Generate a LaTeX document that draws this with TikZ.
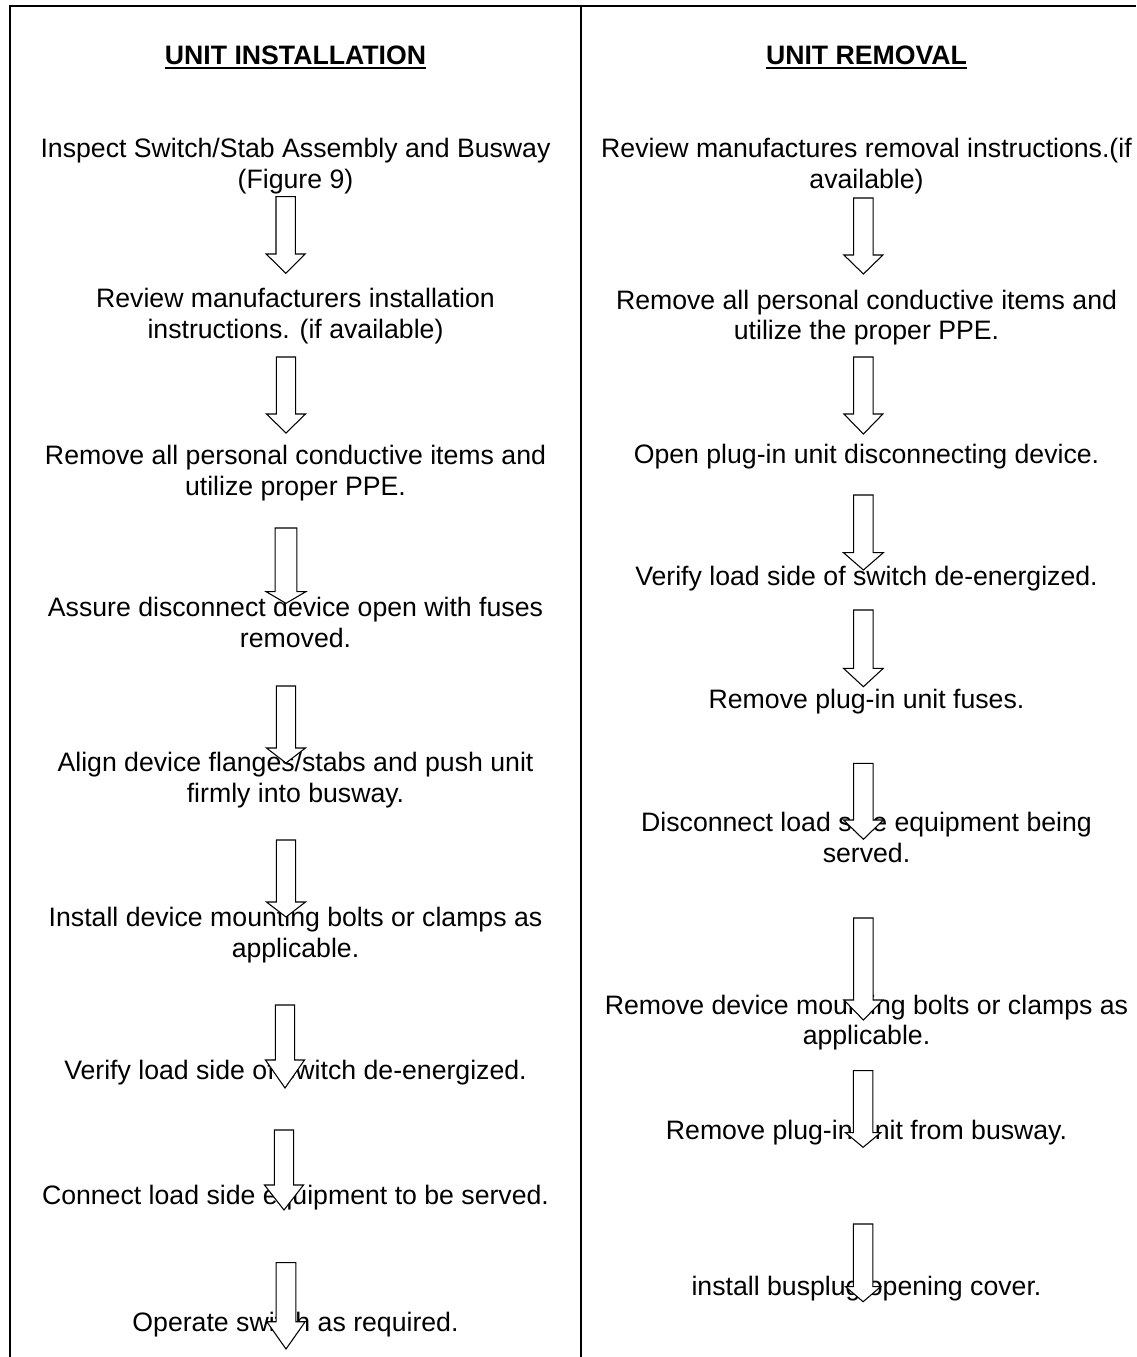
\documentclass[tikz,border=0pt]{standalone}
\usepackage{fontspec}
\setmainfont{Liberation Sans}
\newcommand\barrow[7]{%
  \coordinate (#1) at (#2,#3);
  \draw[blk] (#2-#6,#3) -- (#2+#6,#3) -- (#2+#6,#4) -- (#2+#7,#4) -- (#2,#5) -- (#2-#7,#4) -- (#2-#6,#4) -- cycle;}
\begin{document}
\begin{tikzpicture}[x=0.75pt,y=-0.75pt,
  txt/.style={inner sep=0pt, anchor=base, font=\fontsize{20}{23}\selectfont},
  ttl/.style={txt, font=\fontsize{20}{23}\selectfont\bfseries},
  frame/.style={line width=1.9pt},
  blk/.style={draw=black, fill=white, line width=0.8pt, line join=miter}]
\useasboundingbox (0,0) rectangle (1136,1357);
% frame
\draw[frame] (9,6) -- (1136,6);
\draw[frame] (10,5) -- (10,1357);
\draw[frame] (581,5) -- (581,1357);
% ---------- left column ----------
\node[ttl] (lt) at (295.5,64.3) {UNIT INSTALLATION};
\draw[line width=1.5pt] ([yshift=-3pt]lt.base west) -- ([yshift=-3pt]lt.base east);
\node[txt] (l1a) at (295.5,157.3) {Inspect Switch/Stab Assembly and Busway};
\node[txt] (l1b) at (295.5,188) {(Figure 9)};
\node[txt] (l2a) at (295.5,307.3) {Review manufacturers installation};
\node[txt] (l2b) at (295.5,338) {instructions. (if available)};
\node[txt] (l3a) at (295.5,464.3) {Remove all personal conductive items and};
\node[txt] (l3b) at (295.5,495) {utilize proper PPE.};
\node[txt] (l4a) at (295.5,616.7) {Assure disconnect device open with fuses};
\node[txt] (l4b) at (295.5,647.3) {removed.};
\node[txt] (l5a) at (295.5,771.3) {Align device flanges/stabs and push unit};
\node[txt] (l5b) at (295.5,802) {firmly into busway.};
\node[txt] (l6a) at (295.5,926.3) {Install device mounting bolts or clamps as};
\node[txt] (l6b) at (295.5,957) {applicable.};
\node[txt] (l7) at (295.5,1079.3) {Verify load side of switch de-energized.};
\node[txt] (l8) at (295.5,1204.3) {Connect load side equipment to be served.};
\node[txt] (l9) at (295.5,1331.7) {Operate switch as required.};
% ---------- right column ----------
\node[ttl] (rt) at (866.5,64.3) {UNIT REMOVAL};
\draw[line width=1.5pt] ([yshift=-3pt]rt.base west) -- ([yshift=-3pt]rt.base east);
\node[txt] (r1a) at (866.5,157.3) {Review manufactures removal instructions.(if};
\node[txt] (r1b) at (866.5,188) {available)};
\node[txt] (r2a) at (866.5,309) {Remove all personal conductive items and};
\node[txt] (r2b) at (866.5,339.6) {utilize the proper PPE.};
\node[txt] (r3) at (866.5,463.3) {Open plug-in unit disconnecting device.};
\node[txt] (r4) at (866.5,585) {Verify load side of switch de-energized.};
\node[txt] (r5) at (866.5,708.3) {Remove plug-in unit fuses.};
\node[txt] (r6a) at (866.5,831.7) {Disconnect load side equipment being};
\node[txt] (r6b) at (866.5,862.3) {served.};
\node[txt] (r7a) at (866.5,1014) {Remove device mounting bolts or clamps as};
\node[txt] (r7b) at (866.5,1044.6) {applicable.};
\node[txt] (r8) at (866.5,1139.3) {Remove plug-in unit from busway.};
\node[txt] (r9) at (866.5,1295) {install busplug opening cover.};
% ---------- arrows (drawn over text) ----------
\barrow{la1}{285.7}{196.7}{254}{273.3}{9.7}{19.5}
\barrow{la2}{286}{357}{414}{433}{9.7}{19.5}
\barrow{la3}{286}{528}{591.7}{603.3}{10.8}{19.8}
\barrow{la4}{286}{686}{748}{763}{9.7}{19.5}
\barrow{la5}{286}{840}{902}{917}{9.7}{19.5}
\barrow{la6}{285}{1005}{1060}{1088}{9.7}{19.5}
\barrow{la7}{284}{1130}{1185}{1210}{9.7}{19.5}
\barrow{la8}{286}{1262.7}{1321.7}{1349}{9.8}{19.2}
\barrow{ra1}{863.4}{198}{255}{274}{9.7}{19.5}
\barrow{ra2}{863.4}{357}{414}{434}{9.7}{19.5}
\barrow{ra3}{863.4}{495}{552.7}{570}{9.7}{19.9}
\barrow{ra4}{863.4}{610}{668.3}{686.7}{9.7}{19.9}
\barrow{ra5}{863.4}{763.3}{820}{839.3}{9.7}{19.9}
\barrow{ra6}{863.4}{918}{1000}{1020}{9.7}{19.5}
\barrow{ra7}{863.1}{1070.7}{1132.7}{1147.3}{9.8}{17.5}
\barrow{ra8}{863.1}{1224}{1286.7}{1301.7}{9.8}{17.5}
\end{tikzpicture}
\end{document}
